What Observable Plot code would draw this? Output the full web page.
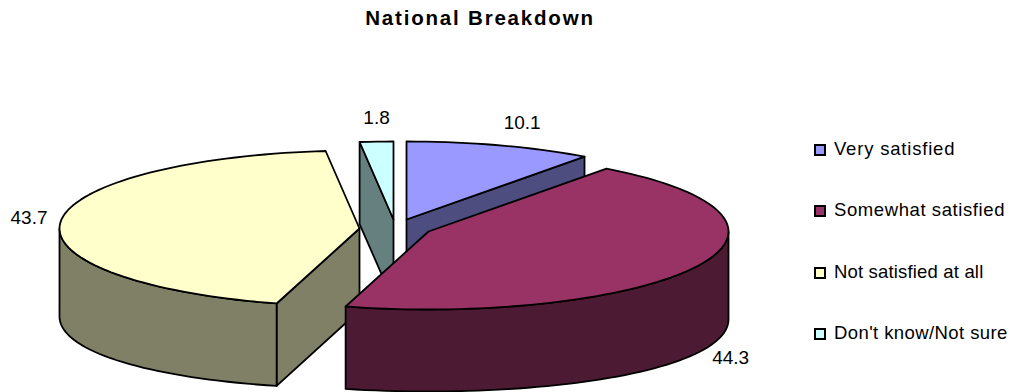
<!DOCTYPE html>
<html>
<head>
<meta charset="utf-8">
<script src="https://cdn.jsdelivr.net/npm/d3@7"></script>
<script src="https://cdn.jsdelivr.net/npm/@observablehq/plot@0.6"></script>
<style>
  html,body{margin:0;padding:0;background:#fff;}
  #wrap{position:relative;width:1012px;height:392px;overflow:hidden;font-family:"Liberation Sans",Arial,sans-serif;color:#000;}
  #title{position:absolute;left:0;top:9px;width:960px;text-align:center;font-weight:bold;font-size:20.5px;letter-spacing:1.8px;line-height:18px;}
  #legend{position:absolute;left:814px;top:0;}
  .row{position:absolute;left:0;display:flex;align-items:center;white-space:nowrap;font-size:18.5px;height:20px;}
  .sw{box-sizing:border-box;width:12px;height:12px;border:2px solid #000;margin-right:8px;flex:none;position:relative;top:1px;}
  #chart{position:absolute;left:0;top:0;}
  svg{display:block;}
</style>
</head>
<body>
<div id="wrap">
  <div id="title"></div>
  <div id="chart"></div>
  <div id="legend"></div>
</div>
<script>
// Data
const titleText = "National Breakdown";
const categories = ["Very satisfied", "Somewhat satisfied", "Not satisfied at all", "Don't know/Not sure"];
const values = [10.1, 44.3, 43.7, 1.8];
const topColors = ["#9999FF", "#993366", "#FFFFCC", "#CCFFFF"];
const wallColors = ["#4D4D80", "#4D1A33", "#808066", "#668080"];

// Pie layout (exploded 3-D look)
const W = 1012, H = 392;
const rx = 300, ry = 78, depth = 82, sideBulge = 6;
const apexX = [406, 428, 359, 393];
const apexY = [219, 231, 228, 219];
const labelDX = [22, 33, -31.5, 0];
const labelDY = [-22, 5, -4, -24];
const drawOrder = [0, 3, 2, 1];
const legendY = [149, 210, 272, 333];
const legendSpacing = [0.8, 0.59, 0.17, 0.41];

const total = d3.sum(values);
const cum = d3.cumsum(values);
const rad = v => v / total * 2 * Math.PI;

function pt(i, a, bottom = false) {
  const s = Math.sin(a);
  const dz = bottom ? depth + sideBulge * s * s : 0;
  return [apexX[i] + rx * s, apexY[i] - ry * Math.cos(a) + dz];
}
function arc(i, a0, a1, bottom = false) {
  const n = Math.max(2, Math.ceil(Math.abs(a1 - a0) / (Math.PI / 90)));
  return d3.range(n + 1).map(k => pt(i, a0 + (a1 - a0) * k / n, bottom));
}

const polys = [];
let pid = 0;
function add(points, fill) {
  const id = pid++;
  points.forEach(([x, y]) => polys.push({id, x, y, fill}));
}

for (const i of drawOrder) {
  const a0 = rad(i ? cum[i - 1] : 0), a1 = rad(cum[i]);
  const A = [apexX[i], apexY[i]];
  const Ad = [apexX[i], apexY[i] + depth];
  // cut faces turned to the viewer
  if (Math.sin(a0) < -1e-9) add([A, pt(i, a0), pt(i, a0, true), Ad], wallColors[i]);
  if (Math.sin(a1) > 1e-9) add([A, pt(i, a1), pt(i, a1, true), Ad], wallColors[i]);
  // outer rim on the front half
  const r0 = Math.max(a0, Math.PI / 2), r1 = Math.min(a1, 1.5 * Math.PI);
  if (r1 > r0) add([...arc(i, r0, r1), ...arc(i, r1, r0, true)], wallColors[i]);
  // top face
  add([A, ...arc(i, a0, a1)], topColors[i]);
}

const labels = values.map((v, i) => {
  const a0 = rad(i ? cum[i - 1] : 0), a1 = rad(cum[i]);
  const m = (a0 + a1) / 2;
  const p = pt(i, m, Math.cos(m) < 0);
  return {x: p[0] + labelDX[i], y: p[1] + labelDY[i], t: v.toFixed(1)};
});

const chart = Plot.plot({
  width: W, height: H,
  margin: 0,
  x: {domain: [0, W], range: [0, W], axis: null},
  y: {domain: [0, H], range: [0, H], axis: null},
  color: {type: "identity"},
  marks: [
    Plot.line(polys, {
      x: "x", y: "y", z: "id", fill: "fill",
      stroke: "#000", strokeWidth: 1.8, strokeLinejoin: "round",
      curve: "linear-closed"
    }),
    Plot.text(labels, {
      x: "x", y: "y", text: "t", fontSize: 19,
      fontFamily: "Liberation Sans, Arial, sans-serif", fill: "#000"
    })
  ]
});
document.getElementById("chart").appendChild(chart);
document.getElementById("title").textContent = titleText;

const legend = document.getElementById("legend");
categories.forEach((c, i) => {
  const row = document.createElement("div");
  row.className = "row";
  row.style.top = (legendY[i] - 10) + "px";
  row.style.letterSpacing = legendSpacing[i] + "px";
  const sw = document.createElement("span");
  sw.className = "sw";
  sw.style.background = topColors[i];
  row.appendChild(sw);
  row.appendChild(document.createTextNode(c));
  legend.appendChild(row);
});
</script>
</body>
</html>
